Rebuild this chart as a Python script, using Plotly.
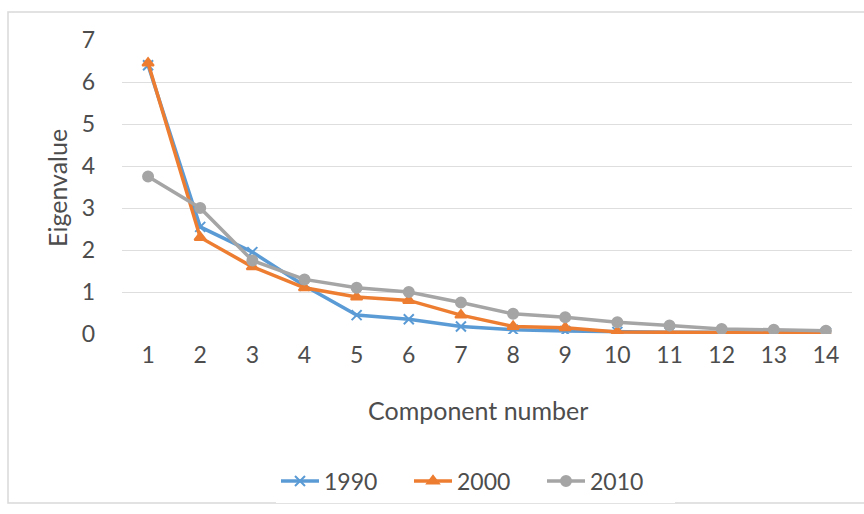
import plotly.graph_objects as go

components = [str(i) for i in range(1, 15)]
y1990 = [6.4, 2.55, 1.95, 1.15, 0.45, 0.35, 0.18, 0.10, 0.07, 0.05, 0.04, 0.04, 0.03, 0.03]
y2000 = [6.45, 2.3, 1.6, 1.1, 0.88, 0.8, 0.45, 0.18, 0.15, 0.05, 0.04, 0.03, 0.02, 0.02]
y2010 = [3.75, 3.0, 1.75, 1.3, 1.1, 1.0, 0.75, 0.48, 0.4, 0.28, 0.2, 0.12, 0.1, 0.08]
series_names = ["1990", "2000", "2010"]
colors = ["#5B9BD5", "#ED7D31", "#A5A5A5"]
symbols = ["x-thin", "triangle-up", "circle"]

W, H = 864, 514
L, R, T, B = 122, 12, 40, 180
pw, ph = W - L - R, H - T - B

def px(x):
    return (x - L) / pw

def py(y):
    return (H - B - y) / ph

TXT = "#4D4D4D"

fig = go.Figure()
for name, ys, c, s in zip(series_names, [y1990, y2000, y2010], colors, symbols):
    fig.add_trace(go.Scatter(
        x=components, y=ys, name=name, mode="lines+markers",
        line=dict(color=c, width=3.5),
        marker=dict(symbol=s, size=10, color=c, line=dict(color=c, width=2)),
    ))

fig.update_layout(
    width=W, height=H,
    margin=dict(l=L, r=R, t=T, b=B),
    paper_bgcolor="white", plot_bgcolor="white",
    font=dict(family="Lato, Open Sans, sans-serif", color=TXT, size=23),
    showlegend=True,
    legend=dict(orientation="h", x=px(276), y=py(481), xanchor="left", yanchor="middle",
                font=dict(size=23, color=TXT), itemwidth=38, traceorder="normal",
                entrywidth=80, entrywidthmode="pixels"),
    xaxis=dict(type="category", range=[-0.5, 13.5], showgrid=False, zeroline=False,
               showline=False, ticks="", ticklabelstandoff=5,
               tickfont=dict(size=23, color=TXT)),
    yaxis=dict(range=[0, 7], dtick=1, showgrid=True, gridcolor="#DEDEDE", gridwidth=1,
               zeroline=False, showline=False, ticks="", ticklabelstandoff=26,
               tickfont=dict(size=23, color=TXT)),
    annotations=[
        dict(text="Component number", xref="paper", yref="paper", x=px(478), y=py(410),
             showarrow=False, font=dict(size=25, color=TXT), xanchor="center", yanchor="middle"),
        dict(text="Eigenvalue", xref="paper", yref="paper", x=px(57), y=py(188),
             showarrow=False, textangle=-90, font=dict(size=25, color=TXT),
             xanchor="center", yanchor="middle"),
    ],
    shapes=[
        dict(type="rect", xref="paper", yref="paper", x0=px(8), x1=px(870), y0=py(503), y1=py(12),
             line=dict(color="#D9D9D9", width=1.5), fillcolor="rgba(0,0,0,0)", layer="below"),
    ],
)

fig.write_html("out.html")
